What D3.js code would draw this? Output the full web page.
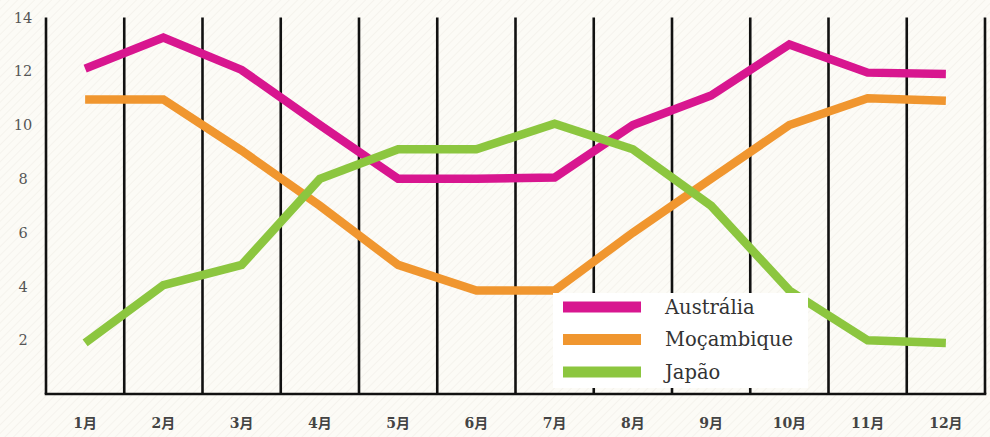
<!DOCTYPE html>
<html>
<head>
<meta charset="utf-8">
<script src="https://cdn.jsdelivr.net/npm/d3@7"></script>
<style>
  html, body { margin: 0; padding: 0; background: #fcfbf6; }
  svg { display: block; }
</style>
</head>
<body>
<svg id="chart" width="990" height="437"></svg>
<script>
const months = ["1月","2月","3月","4月","5月","6月","7月","8月","9月","10月","11月","12月"];
const australia  = [12.1, 13.25, 12.05, 10, 8, 8, 8.05, 10, 11.1, 13, 11.95, 11.9];
const mocambique = [10.95, 10.95, 9.05, 7, 4.8, 3.85, 3.85, 6, 8, 10, 11, 10.9];
const japao      = [1.9, 4.05, 4.8, 8, 9.1, 9.1, 10.05, 9.1, 7, 3.85, 2.0, 1.9];
const yTicks = [2, 4, 6, 8, 10, 12, 14];
const seriesNames = ["Austrália", "Moçambique", "Japão"];
const seriesColors = ["#d8168f", "#f0962f", "#8cc63f"];
const seriesData = [australia, mocambique, japao];

const svg = d3.select("#chart");

// subtle diagonal hatching background
const defs = svg.append("defs");
const pat = defs.append("pattern").attr("id", "hatch").attr("patternUnits", "userSpaceOnUse")
  .attr("width", 6).attr("height", 6).attr("patternTransform", "rotate(45)");
pat.append("rect").attr("width", 6).attr("height", 6).attr("fill", "#fcfbf6");
pat.append("line").attr("x1", 0).attr("y1", 0).attr("x2", 0).attr("y2", 6)
  .attr("stroke", "#f3f1ea").attr("stroke-width", 1.5);
svg.append("rect").attr("width", 990).attr("height", 437).attr("fill", "url(#hatch)");

const x = d3.scaleBand().domain(months).range([46, 985]).paddingInner(0).paddingOuter(0);
const y = d3.scaleLinear().domain([0, 14]).range([394, 17.5]);

// vertical grid lines at band boundaries
const bounds = months.map(m => x(m)).concat([x.range()[1]]);
svg.append("g").selectAll("line").data(bounds).join("line")
  .attr("x1", d => d).attr("x2", d => d)
  .attr("y1", y(14)).attr("y2", y(0))
  .attr("stroke", "#111").attr("stroke-width", 2.6);

// bottom axis line
svg.append("line")
  .attr("x1", x.range()[0] - 1.3).attr("x2", x.range()[1] + 1.3)
  .attr("y1", y(0)).attr("y2", y(0))
  .attr("stroke", "#111").attr("stroke-width", 2.6);

// y tick labels
const yAxis = d3.axisLeft(y).tickValues(yTicks).tickSize(0).tickPadding(0);
const gy = svg.append("g").attr("transform", "translate(23,0)").call(yAxis);
gy.select(".domain").remove();
gy.selectAll("text")
  .attr("text-anchor", "middle")
  .attr("font-family", "'DejaVu Serif', 'Liberation Serif', serif")
  .attr("font-size", 14.5).attr("fill", "#555");

// x tick labels
const xAxis = d3.axisBottom(x).tickSize(0).tickPadding(0);
const gx = svg.append("g").attr("transform", "translate(0,418)").call(xAxis);
gx.select(".domain").remove();
gx.selectAll("text")
  .attr("font-family", "'DejaVu Serif', 'Noto Sans CJK SC', serif")
  .attr("font-weight", "bold")
  .attr("font-size", 14).attr("fill", "#444");

// lines
const line = d3.line()
  .x((d, i) => x(months[i]) + x.bandwidth() / 2)
  .y(d => y(d));
svg.append("g").selectAll("path").data(seriesData).join("path")
  .attr("d", d => line(d))
  .attr("fill", "none")
  .attr("stroke", (d, i) => seriesColors[i])
  .attr("stroke-width", 8.5)
  .attr("stroke-linejoin", "miter")
  .attr("stroke-linecap", "butt");

// legend box (white, drawn over the grid and lines)
const lg = svg.append("g");
lg.append("rect").attr("x", 553).attr("y", 293).attr("width", 255).attr("height", 95)
  .attr("fill", "#ffffff");
const items = lg.selectAll("g.item").data(seriesNames).join("g").attr("class", "item")
  .attr("transform", (d, i) => `translate(0,${307 + i * 32.5})`);
items.append("rect").attr("x", 563).attr("y", -5.5).attr("width", 78).attr("height", 11)
  .attr("fill", (d, i) => seriesColors[i]);
items.append("text").attr("x", 665).attr("y", 0).attr("dy", "0.35em")
  .attr("font-family", "'DejaVu Serif', 'Liberation Serif', serif")
  .attr("font-size", 19.5).attr("fill", "#333")
  .text(d => d);
</script>
</body>
</html>
